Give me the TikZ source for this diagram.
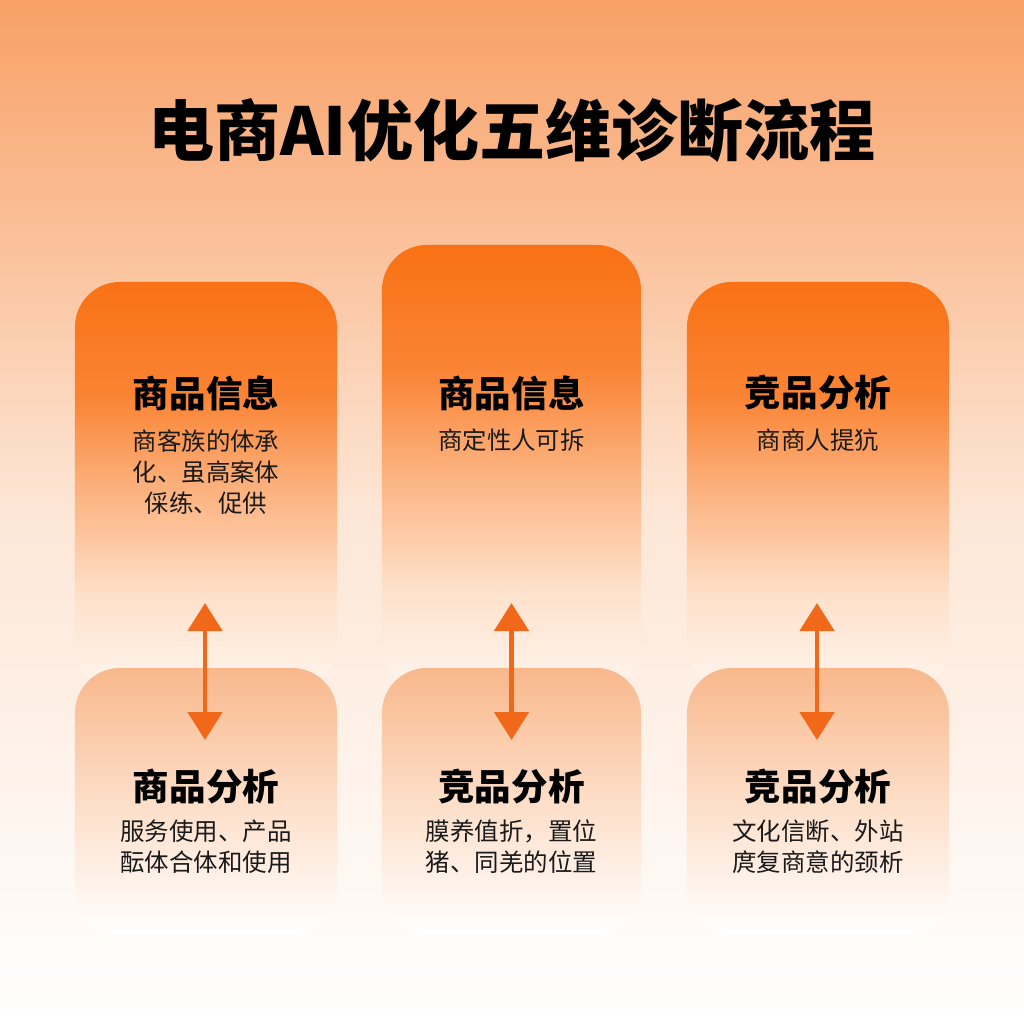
\documentclass[tikz,border=0pt]{standalone}
\usepackage{fontspec}
\usepackage{tikz}
\usetikzlibrary{arrows.meta, positioning, backgrounds}
\setmainfont{Noto Sans CJK SC}
\newfontfamily\cjk{Noto Sans CJK SC}
\definecolor{bgtop}{RGB}{248,160,102}
\definecolor{bgmid}{RGB}{253,230,214}
\definecolor{orange1}{RGB}{249,113,20}
\definecolor{orange3}{RGB}{250,132,52}
\definecolor{orange2}{RGB}{252,176,124}
\definecolor{fade2}{RGB}{254,226,204}
\definecolor{fade1}{RGB}{255,245,238}
\definecolor{peach1}{RGB}{248,184,140}
\definecolor{peach2}{RGB}{253,222,200}
\definecolor{arrow1}{RGB}{242,104,26}
\definecolor{ink}{RGB}{26,26,26}
\pgfdeclareverticalshading{boxfade}{100bp}{color(0bp)=(fade1); color(25bp)=(fade1);
  color(36bp)=(fade2); color(50bp)=(orange2); color(61bp)=(orange3); color(75bp)=(orange1); color(100bp)=(orange1)}

\begin{document}
\begin{tikzpicture}[x=0.025cm,y=-0.025cm,font=\cjk]
        \tikzstyle{topbox}=[draw=none,inner sep=0pt,rounded corners=1.125cm,
                            minimum width=6.55cm,shading=boxfade]
        \tikzstyle{lowbox}=[draw=none,inner sep=0pt,rounded corners=1.125cm,
                            minimum width=6.55cm,minimum height=6.675cm,
                            top color=peach1,bottom color=white,middle color=peach2]
        \tikzstyle{boxtitle}=[text=black,font=\cjk\bfseries\fontsize{26}{30}\selectfont]
        \tikzstyle{boxtext}=[text=ink,align=center,inner sep=0pt,font=\cjk\fontsize{17.4}{22}\selectfont]
        \tikzstyle{twoway}=[{Triangle[width=0.85cm,length=0.7cm]}-{Triangle[width=0.85cm,length=0.7cm]},
                            draw=arrow1,line width=3.5pt]

        \shade[top color=bgtop,bottom color=white,middle color=bgmid] (0,0) rectangle (1024,1024);
        \useasboundingbox (0,0) rectangle (1024,1024);

        \node[text=black,font=\cjk\bfseries\fontsize{47}{52}\selectfont] (title) at (512,130) {电商AI优化五维诊断流程};

        \node[topbox,minimum height=10.2cm]    (info1) at (206,486)   {};
        \node[topbox,minimum height=11.125cm,minimum width=6.475cm] (info2) at (511.5,467.5) {};
        \node[topbox,minimum height=10.2cm]    (comp1) at (818,486)   {};
        \node[lowbox]                          (ana1)  at (206,801.5) {};
        \node[lowbox,minimum width=6.475cm]    (comp2) at (511.5,801.5) {};
        \node[lowbox]                          (comp3) at (818,801.5) {};

        \node[boxtitle] (info1t) at (206,393) {商品信息};
        \node[boxtext]  (info1b) at (206,472) {商客族的体承\\化、虽高案体\\倸练、促供};
        \node[boxtitle] (info2t) at (511.5,393) {商品信息};
        \node[boxtext]  (info2b) at (511.5,440) {商定性人可拆};
        \node[boxtitle] (comp1t) at (818,393) {竞品分析};
        \node[boxtext]  (comp1b) at (818,440) {商商人提犺};

        \node[boxtitle] (ana1t)  at (206,787) {商品分析};
        \node[boxtext]  (ana1b)  at (206,847) {服务使用、产品\\酝体合体和使用};
        \node[boxtitle] (comp2t) at (511.5,787) {竞品分析};
        \node[boxtext]  (comp2b) at (511.5,847) {膜养值折，置位\\猪、同羌的位置};
        \node[boxtitle] (comp3t) at (818,787) {竞品分析};
        \node[boxtext]  (comp3b) at (818,847) {文化信断、外站\\庹复商意的颈析};

        \coordinate (up1) at (205,603);   \coordinate (dn1) at (205,740);
        \coordinate (up2) at (511.5,603); \coordinate (dn2) at (511.5,740);
        \coordinate (up3) at (817,603);   \coordinate (dn3) at (817,740);

        \draw[twoway] (up1) -- (dn1);
        \draw[twoway] (up2) -- (dn2);
        \draw[twoway] (up3) -- (dn3);
\end{tikzpicture}
\end{document}
